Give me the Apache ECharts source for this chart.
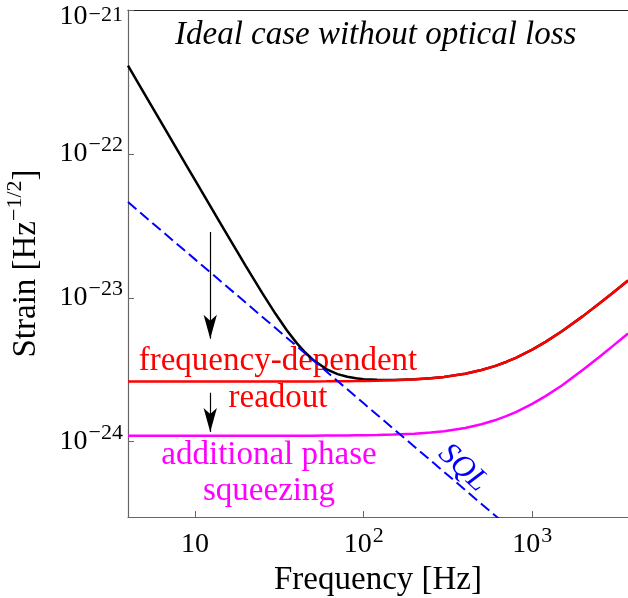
<!DOCTYPE html>
<html>
<head>
<meta charset="utf-8">
<script src="https://cdn.jsdelivr.net/npm/echarts@6/dist/echarts.min.js"></script>
<style>
html,body{margin:0;padding:0;background:#fff;}
#chart{width:628px;height:598px;}
</style>
</head>
<body>
<div id="chart"></div>
<script>
// All strain values are in units of 1e-24 Hz^(-1/2)
const UNIT_EXP = -24;

const freqHz = [4,5,6,7,8,9,10,12,14,16,18,20,25,30,35,40,45,50,60,70,80,90,100,120,150,200,250,300,400,500,600,700,800,1000,1200,1500,2000,2500,3000,3700];

// black: conventional readout
const conventionalNoise = [410.0,262.4,182.2,133.9,102.5,81.04,65.65,45.63,33.57,25.76,20.42,16.61,10.82,7.745,5.961,4.865,4.168,3.712,3.198,2.952,2.827,2.761,2.723,2.692,2.688,2.716,2.764,2.823,2.969,3.149,3.355,3.584,3.831,4.367,4.943,5.859,7.462,9.118,10.80,13.19];

// red: frequency-dependent readout
const freqDependentReadout = [2.62,2.62,2.62,2.62,2.62,2.62,2.62,2.62,2.62,2.62,2.62,2.62,2.62,2.62,2.62,2.62,2.62,2.626,2.628,2.631,2.635,2.639,2.643,2.653,2.672,2.711,2.762,2.822,2.969,3.149,3.355,3.584,3.831,4.367,4.943,5.859,7.462,9.118,10.80,13.19];

// magenta: additional phase squeezing
const phaseSqueezing = [1.10,1.10,1.10,1.10,1.10,1.10,1.10,1.10,1.10,1.10,1.10,1.10,1.10,1.10,1.10,1.10,1.10,1.102,1.104,1.105,1.106,1.108,1.110,1.114,1.122,1.138,1.160,1.185,1.247,1.322,1.409,1.505,1.608,1.833,2.075,2.460,3.160,3.880,4.620,5.650];

// blue dashed: standard quantum limit
const sqlFreqHz = [4, 10, 100, 700];
const sqlNoise = [46.25, 18.5, 1.85, 0.2643];

// axis ranges / ticks
const xRange = [4, 3700];
const yRange = [0.3, 1000];
const xTickExponents = [1, 2, 3];
const yTickExponents = [-24, -23, -22, -21];

// annotation arrows (frequency, [start, end] strain in units)
const arrowFreq = 12.3;
const arrowDown1 = [28.7, 5.2];
const arrowDown2 = [2.19, 1.17];

const SERIF = '"Liberation Serif", "Times New Roman", serif';

function pairs(xs, ys) { return xs.map((x, i) => [x, ys[i]]); }

const richLabel = {
  b: { fontFamily: SERIF, fontSize: 28, color: '#000', lineHeight: 40 },
  s: { fontFamily: SERIF, fontSize: 22, color: '#000', verticalAlign: 'top', padding: [0, 0, 0, 1] },
  bt: { fontFamily: SERIF, fontSize: 28, color: '#000', lineHeight: 40, padding: [14, 0, 0, 0] },
  st: { fontFamily: SERIF, fontSize: 22, color: '#000', verticalAlign: 'top', padding: [14, 0, 0, 1] }
};

const chart = echarts.init(document.getElementById('chart'), null, { renderer: 'canvas' });

const option = {
  animation: false,
  backgroundColor: '#fff',
  grid: { left: 128, top: 10, right: 0, bottom: 81, containLabel: false, outerBoundsMode: 'none' },
  xAxis: [{
    type: 'log',
    min: xRange[0], max: xRange[1],
    position: 'bottom',
    name: 'Frequency [Hz]',
    nameLocation: 'middle',
    nameGap: 39,
    nameTextStyle: { fontFamily: SERIF, fontSize: 33, color: '#000' },
    axisLine: { show: true, lineStyle: { color: '#666', width: 1.2 } },
    axisTick: { show: true, inside: true, length: 6, lineStyle: { color: '#666' } },
    minorTick: { show: false },
    splitLine: { show: false },
    axisLabel: {
      margin: 8,
      rich: richLabel,
      formatter: function (v) {
        const l = Math.log10(v), e = Math.round(l);
        if (Math.abs(l - e) > 1e-6 || xTickExponents.indexOf(e) < 0) return '';
        return e === 1 ? '{b|10}' : '{b|10}{s|' + e + '}';
      }
    }
  }, {
    type: 'log',
    min: xRange[0], max: xRange[1],
    position: 'top',
    axisLine: { show: true, lineStyle: { color: '#222', width: 1.2 } },
    axisTick: { show: false },
    axisLabel: { show: false },
    splitLine: { show: false }
  }],
  yAxis: {
    type: 'log',
    min: yRange[0], max: yRange[1],
    name: '{a|Strain [Hz}{s|−1/2}{a|]}',
    nameLocation: 'middle',
    nameGap: 80,
    nameTextStyle: {
      rich: {
        a: { fontFamily: SERIF, fontSize: 33, color: '#000', lineHeight: 44 },
        s: { fontFamily: SERIF, fontSize: 22, color: '#000', verticalAlign: 'top' }
      }
    },
    axisLine: { show: true, lineStyle: { color: '#666', width: 1.2 } },
    axisTick: { show: true, inside: true, length: 6, lineStyle: { color: '#666' } },
    minorTick: { show: false },
    splitLine: { show: false },
    axisLabel: {
      margin: 5,
      showMinLabel: false,
      showMaxLabel: true,
      rich: richLabel,
      formatter: function (v) {
        const l = Math.log10(v), e = Math.round(l);
        if (Math.abs(l - e) > 1e-6) return '';
        const ex = e + UNIT_EXP;
        if (yTickExponents.indexOf(ex) < 0) return '';
        const txt = '−' + Math.abs(ex);
        if (ex === yTickExponents[yTickExponents.length - 1]) return '{bt|10}{st|' + txt + '}';
        return '{b|10}{s|' + txt + '}';
      }
    }
  },
  series: [
    {
      name: 'conventional', type: 'line', symbol: 'none', smooth: false,
      data: pairs(freqHz, conventionalNoise),
      lineStyle: { color: '#000', width: 2.5 },
      z: 2,
      markLine: {
        silent: true, animation: false,
        symbol: ['none', 'arrow'],
        label: { show: false },
        lineStyle: { color: '#000', width: 1.2, type: 'solid' },
        itemStyle: { color: '#000' },
        emphasis: { disabled: true },
        data: [
          [{ coord: [arrowFreq, arrowDown1[0]], symbol: 'none', symbolSize: 1 },
           { coord: [arrowFreq, arrowDown1[1]], symbol: 'arrow', symbolSize: [10, 24] }],
          [{ coord: [arrowFreq, arrowDown2[0]], symbol: 'none', symbolSize: 1 },
           { coord: [arrowFreq, arrowDown2[1]], symbol: 'arrow', symbolSize: [10, 24] }]
        ]
      }
    },
    {
      name: 'frequency-dependent readout', type: 'line', symbol: 'none', smooth: false,
      data: pairs(freqHz, freqDependentReadout),
      lineStyle: { color: '#ff0000', width: 2.5 }, z: 3
    },
    {
      name: 'additional phase squeezing', type: 'line', symbol: 'none', smooth: false,
      data: pairs(freqHz, phaseSqueezing),
      lineStyle: { color: '#ff00ff', width: 2.5 }, z: 3
    },
    {
      name: 'SQL', type: 'line', symbol: 'none', smooth: false,
      data: pairs(sqlFreqHz, sqlNoise),
      lineStyle: { color: '#0000ff', width: 2, type: [11, 5] }, z: 4
    }
  ],
  graphic: [
    { type: 'text', x: 175, y: 35, style: { text: 'Ideal case without optical loss', fontFamily: SERIF, fontStyle: 'italic', fontSize: 33, fill: '#000', align: 'left', verticalAlign: 'middle' } },
    { type: 'text', x: 278, y: 361, style: { text: 'frequency-dependent', fontFamily: SERIF, fontSize: 33, fill: '#ff0000', align: 'center', verticalAlign: 'middle' } },
    { type: 'text', x: 278, y: 398, style: { text: 'readout', fontFamily: SERIF, fontSize: 33, fill: '#ff0000', align: 'center', verticalAlign: 'middle' } },
    { type: 'text', x: 269, y: 455, style: { text: 'additional phase', fontFamily: SERIF, fontSize: 33, fill: '#ff00ff', align: 'center', verticalAlign: 'middle' } },
    { type: 'text', x: 269, y: 491, style: { text: 'squeezing', fontFamily: SERIF, fontSize: 33, fill: '#ff00ff', align: 'center', verticalAlign: 'middle' } },
    { type: 'text', x: 463, y: 468, rotation: -0.75, style: { text: 'SQL', fontFamily: SERIF, fontStyle: 'italic', fontSize: 31, fill: '#0000ff', align: 'center', verticalAlign: 'middle' } }
  ]
};

chart.setOption(option);
</script>
</body>
</html>
